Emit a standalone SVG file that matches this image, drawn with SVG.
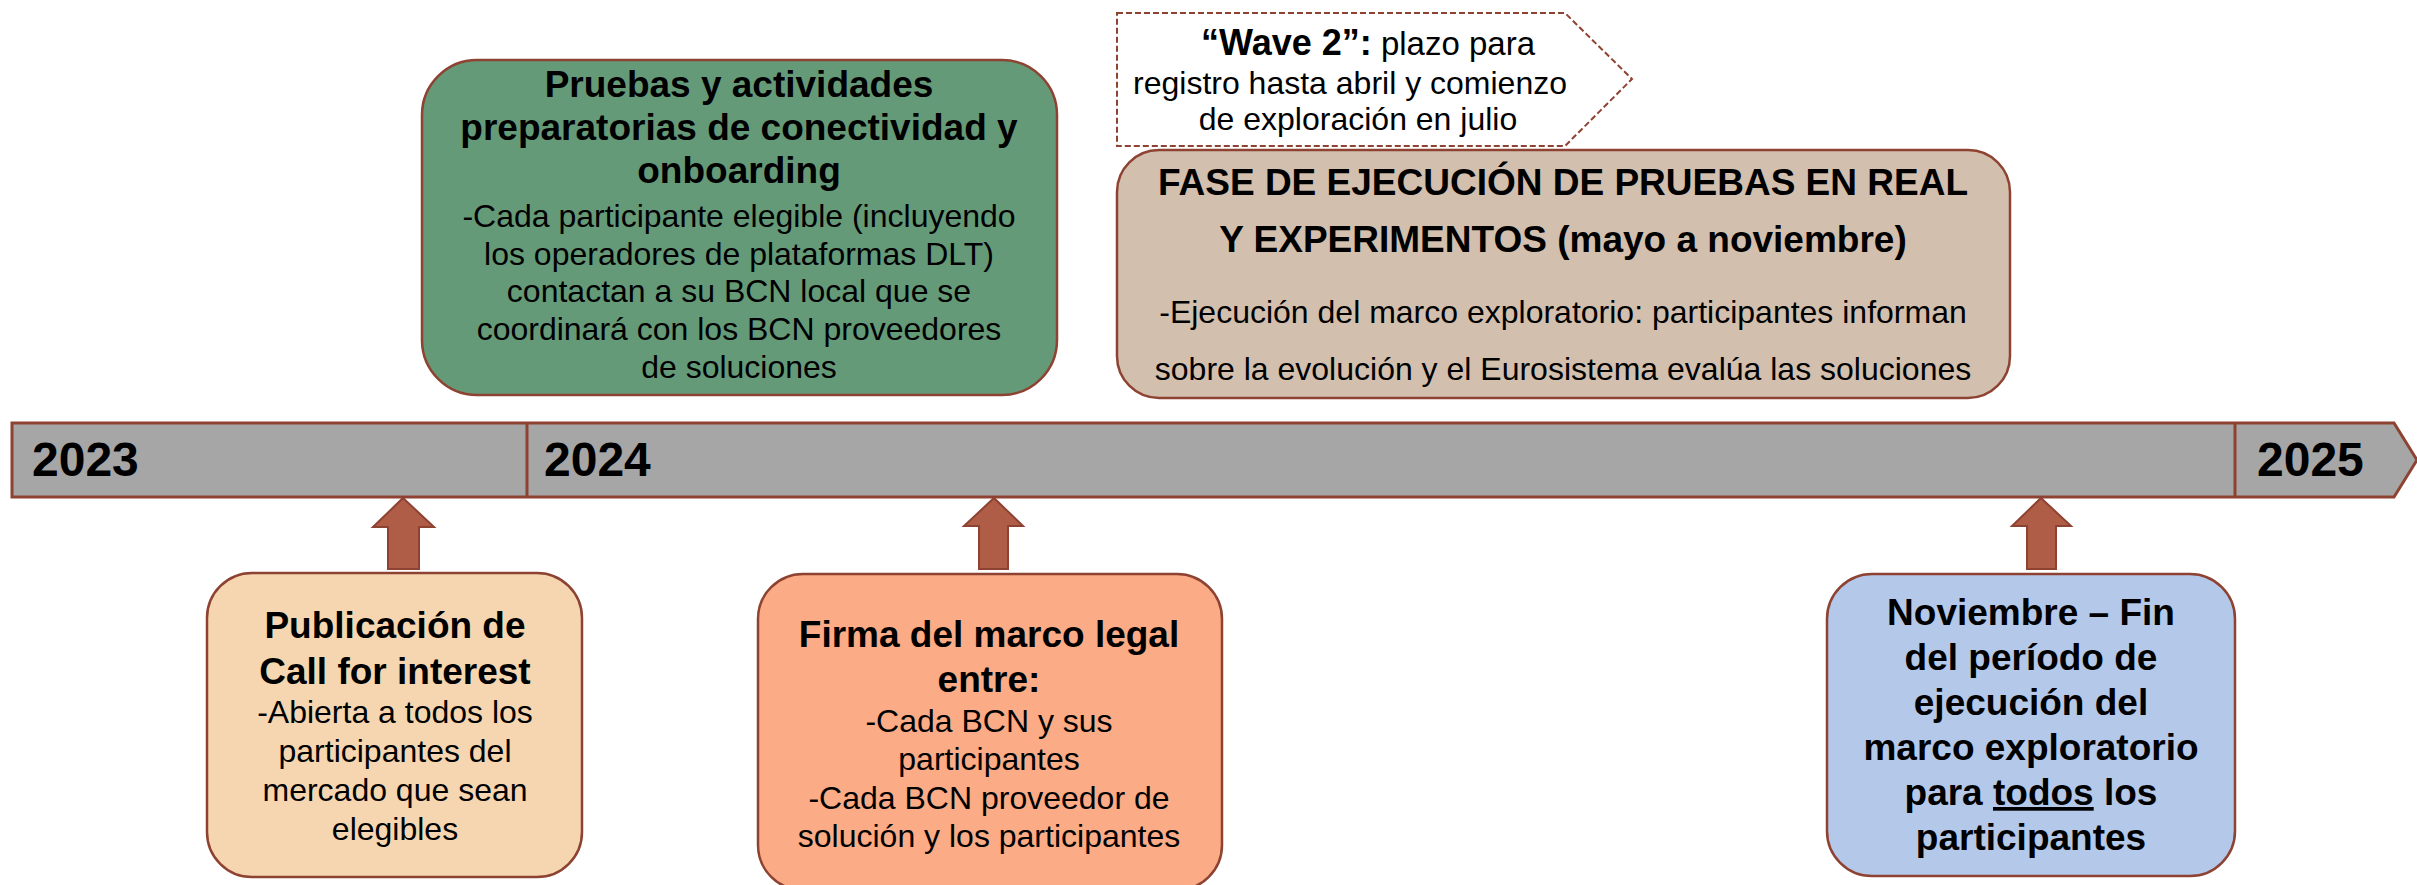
<svg xmlns="http://www.w3.org/2000/svg" width="2417" height="885" viewBox="0 0 2417 885">
<style>
text { font-family: "Liberation Sans", Arial, Helvetica, sans-serif; fill: #000; text-anchor: middle; }
.b { font-weight: bold; font-size: 37px; }
.n { font-size: 32px; }
.yr { font-weight: bold; font-size: 48px; text-anchor: start; }
.box { stroke: #8e4232; stroke-width: 2.5; }
.arrow { fill: #b05d48; stroke: #8e4232; stroke-width: 2; }
</style>
<rect width="2417" height="885" fill="#ffffff"/>

<g id="timeline">
  <path d="M12,423 H2394 L2417,460 L2394,497 H12 Z" fill="#a6a6a6" stroke="#8e4232" stroke-width="3"/>
  <line x1="527" y1="423" x2="527" y2="497" stroke="#8e4232" stroke-width="3"/>
  <line x1="2235" y1="423" x2="2235" y2="497" stroke="#8e4232" stroke-width="3"/>
  <text class="yr" x="32" y="476">2023</text>
  <text class="yr" x="544" y="476">2024</text>
  <text class="yr" x="2257" y="476">2025</text>
</g>

<g id="connectors">
  <path class="arrow" d="M403,498 L434,527 H419 V569 H388 V527 H373 Z"/>
  <path class="arrow" d="M994,498 L1023,526 H1008 V569 H979 V526 H964 Z"/>
  <path class="arrow" d="M2041,498 L2071,526 H2056 V569 H2027 V526 H2012 Z"/>
</g>

<g id="wave2">
  <path d="M1117,13 H1565 L1632,79 L1565,146 H1117 Z" fill="#ffffff" stroke="#8e4232" stroke-width="2" stroke-dasharray="6 3"/>
  <text x="1368" y="55"><tspan font-weight="bold" font-size="36px">“Wave 2”:</tspan><tspan font-size="33px"> plazo para</tspan></text>
  <text class="n" x="1350" y="94">registro hasta abril y comienzo</text>
  <text class="n" x="1358" y="130">de exploración en julio</text>
</g>

<g id="pruebas">
  <rect class="box" x="422" y="60" width="635" height="335" rx="55" fill="#659a79"/>
  <text class="b" x="739" y="97">Pruebas y actividades</text>
  <text class="b" x="739" y="140">preparatorias de conectividad y</text>
  <text class="b" x="739" y="183">onboarding</text>
  <text class="n" x="739" y="227">-Cada participante elegible (incluyendo</text>
  <text class="n" x="739" y="265">los operadores de plataformas DLT)</text>
  <text class="n" x="739" y="302">contactan a su BCN local que se</text>
  <text class="n" x="739" y="340">coordinará con los BCN proveedores</text>
  <text class="n" x="739" y="378">de soluciones</text>
</g>

<g id="fase">
  <rect class="box" x="1117" y="150" width="893" height="248" rx="42" fill="#d2bfae"/>
  <text class="b" x="1563" y="195">FASE DE EJECUCIÓN DE PRUEBAS EN REAL</text>
  <text class="b" x="1563" y="252">Y EXPERIMENTOS (mayo a noviembre)</text>
  <text class="n" x="1563" y="323">-Ejecución del marco exploratorio: participantes informan</text>
  <text class="n" x="1563" y="380">sobre la evolución y el Eurosistema evalúa las soluciones</text>
</g>

<g id="publicacion">
  <rect class="box" x="207" y="573" width="375" height="304" rx="45" fill="#f5d6b0"/>
  <text class="b" x="395" y="638">Publicación de</text>
  <text class="b" x="395" y="684">Call for interest</text>
  <text class="n" x="395" y="723">-Abierta a todos los</text>
  <text class="n" x="395" y="762">participantes del</text>
  <text class="n" x="395" y="801">mercado que sean</text>
  <text class="n" x="395" y="840">elegibles</text>
</g>

<g id="firma">
  <rect class="box" x="758" y="574" width="464" height="316" rx="45" fill="#fbab85"/>
  <text class="b" x="989" y="647">Firma del marco legal</text>
  <text class="b" x="989" y="692">entre:</text>
  <text class="n" x="989" y="732">-Cada BCN y sus</text>
  <text class="n" x="989" y="770">participantes</text>
  <text class="n" x="989" y="809">-Cada BCN proveedor de</text>
  <text class="n" x="989" y="847">solución y los participantes</text>
</g>

<g id="noviembre">
  <rect class="box" x="1827" y="574" width="408" height="302" rx="45" fill="#b4c8ea"/>
  <text class="b" x="2031" y="625">Noviembre – Fin</text>
  <text class="b" x="2031" y="670">del período de</text>
  <text class="b" x="2031" y="715">ejecución del</text>
  <text class="b" x="2031" y="760">marco exploratorio</text>
  <text class="b" x="2031" y="805">para <tspan text-decoration="underline">todos</tspan> los</text>
  <text class="b" x="2031" y="850">participantes</text>
</g>
</svg>
